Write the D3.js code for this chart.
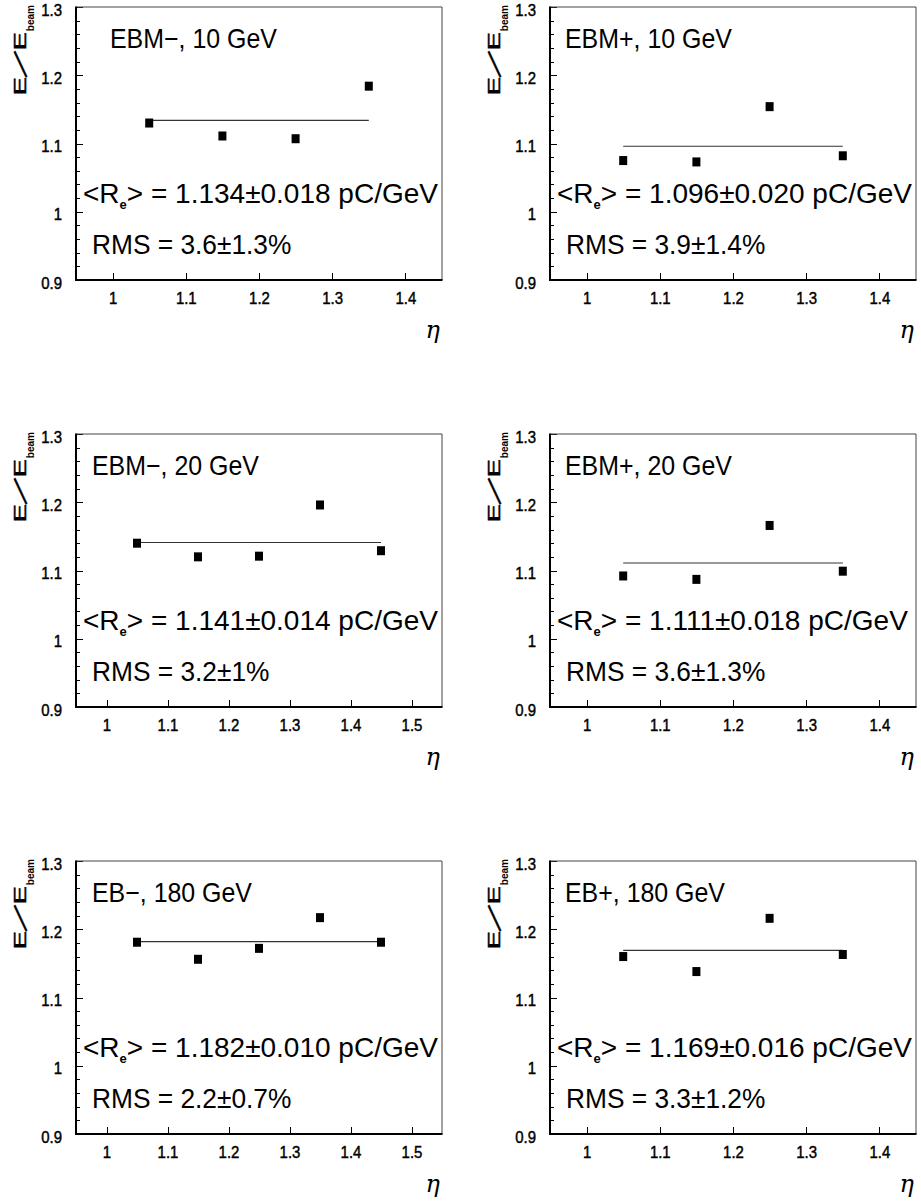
<!DOCTYPE html>
<html>
<head>
<meta charset="utf-8">
<script src="https://cdn.jsdelivr.net/npm/d3@7"></script>
<style>
  html, body { margin: 0; padding: 0; background: #fff; }
  svg { display: block; font-family: "Liberation Sans", Arial, Helvetica, sans-serif; }
</style>
</head>
<body>
<svg id="chart" width="921" height="1204"></svg>
<script>
// ---- data ----------------------------------------------------------
const etaBins = [1.05, 1.15, 1.25, 1.35, 1.45];

const panelTitles = [
  "EBM\u2212, 10 GeV", "EBM+, 10 GeV",
  "EBM\u2212, 20 GeV", "EBM+, 20 GeV",
  "EB\u2212, 180 GeV", "EB+, 180 GeV"
];

// E/E_beam per eta bin
const ebmMinus10 = [1.130, 1.111, 1.107, 1.184];
const ebmPlus10  = [1.075, 1.073, 1.154, 1.082];
const ebmMinus20 = [1.140, 1.120, 1.121, 1.196, 1.129];
const ebmPlus20  = [1.092, 1.087, 1.166, 1.099];
const ebMinus180 = [1.181, 1.156, 1.172, 1.217, 1.181];
const ebPlus180  = [1.160, 1.138, 1.216, 1.163];

const meanResponse = [1.134, 1.096, 1.141, 1.111, 1.182, 1.169];
const meanError    = ["0.018", "0.020", "0.014", "0.018", "0.010", "0.016"];
const rmsValue     = ["3.6", "3.9", "3.2", "3.6", "2.2", "3.3"];
const rmsError     = ["1.3", "1.4", "1", "1.3", "0.7", "1.2"];

const etaRanges = [[0.95, 1.45], [0.95, 1.45], [0.95, 1.55], [0.95, 1.45], [0.95, 1.55], [0.95, 1.45]];
const yRange = [0.9, 1.3];

const yTicks = [0.9, 1.0, 1.1, 1.2, 1.3];
const yTickLabels = ["0.9", "1", "1.1", "1.2", "1.3"];
const xTicksShort = [1.0, 1.1, 1.2, 1.3, 1.4];
const xTicksLong  = [1.0, 1.1, 1.2, 1.3, 1.4, 1.5];
const xTickLabels = ["1", "1.1", "1.2", "1.3", "1.4", "1.5"];

const seriesList = [ebmMinus10, ebmPlus10, ebmMinus20, ebmPlus20, ebMinus180, ebPlus180];

// ---- layout --------------------------------------------------------
const colX = [76, 550];
const rowY = [7, 434, 861];
const plotW = 366, plotH = 273;
const titleDx = [34, 15, 16, 15, 16, 15];

const svg = d3.select("#chart");

// text squeezed/stretched horizontally around its anchor point
function label(g, x, y, sx, size) {
  return g.append("text")
    .attr("transform", `translate(${x},${y}) scale(${sx},1)`)
    .attr("font-size", size)
    .attr("fill", "#000");
}

const minorY = d3.range(0, 21).filter(k => k % 5 !== 0).map(k => yRange[0] + k * 0.02);

seriesList.forEach((vals, i) => {
  const col = i % 2, row = Math.floor(i / 2);
  const x0 = colX[col], y0 = rowY[row];
  const g = svg.append("g");

  const x = d3.scaleLinear().domain(etaRanges[i]).range([x0, x0 + plotW]);
  const y = d3.scaleLinear().domain(yRange).range([y0 + plotH, y0]);
  const xTicks = etaRanges[i][1] > 1.5 ? xTicksLong : xTicksShort;

  // minor y ticks
  const minorAxis = g.append("g")
    .attr("transform", `translate(${x0},0)`)
    .call(d3.axisLeft(y).tickValues(minorY).tickSize(-4).tickFormat(""));
  minorAxis.select(".domain").remove();

  // major y ticks + labels
  const yAxis = g.append("g")
    .attr("transform", `translate(${x0},0)`)
    .call(d3.axisLeft(y).tickValues(yTicks).tickSize(-7)
      .tickFormat((d, k) => yTickLabels[k]));
  yAxis.select(".domain").remove();
  yAxis.attr("font-family", null).attr("font-size", 17);
  yAxis.selectAll("text")
    .attr("x", null).attr("dy", null)
    .attr("stroke", "#000").attr("stroke-width", 0.45)
    .attr("transform", "translate(-14,8) scale(0.88,1)");

  // x ticks + labels
  const xAxis = g.append("g")
    .attr("transform", `translate(0,${y0 + plotH})`)
    .call(d3.axisBottom(x).tickValues(xTicks).tickSize(-7)
      .tickFormat(d => xTickLabels[xTicksLong.indexOf(d)]));
  xAxis.select(".domain").remove();
  xAxis.attr("font-family", null).attr("font-size", 17);
  xAxis.selectAll("text")
    .attr("y", null).attr("dy", null)
    .attr("stroke", "#000").attr("stroke-width", 0.45)
    .attr("transform", "translate(0,23.5) scale(0.88,1)");

  g.selectAll(".tick line").attr("stroke", "#000").attr("shape-rendering", "crispEdges");

  // frame: heavy axes on left/bottom, light edges on top/right
  g.append("line").attr("x1", x0).attr("x2", x0 + plotW).attr("y1", y0).attr("y2", y0)
    .attr("stroke", "#444").attr("stroke-width", 1);
  g.append("line").attr("x1", x0 + plotW).attr("x2", x0 + plotW).attr("y1", y0).attr("y2", y0 + plotH)
    .attr("stroke", "#444").attr("stroke-width", 1);
  g.append("line").attr("x1", x0).attr("x2", x0).attr("y1", y0 - 0.5).attr("y2", y0 + plotH + 1)
    .attr("stroke", "#000").attr("stroke-width", 2);
  g.append("line").attr("x1", x0 - 1).attr("x2", x0 + plotW + 0.5).attr("y1", y0 + plotH).attr("y2", y0 + plotH)
    .attr("stroke", "#000").attr("stroke-width", 2);

  // mean response line across the measured bins
  const bins = etaBins.slice(0, vals.length);
  g.append("line")
    .attr("x1", x(bins[0])).attr("x2", x(bins[bins.length - 1]))
    .attr("y1", y(meanResponse[i])).attr("y2", y(meanResponse[i]))
    .attr("stroke", "#333").attr("stroke-width", 1.2);

  // measured points
  g.selectAll("rect.pt").data(vals).enter().append("rect")
    .attr("class", "pt")
    .attr("x", (d, k) => x(bins[k]) - 4)
    .attr("y", d => y(d) - 4.5)
    .attr("width", 8).attr("height", 9)
    .attr("fill", "#000");

  // panel title
  label(g, x0 + titleDx[i], y0 + 40.5, 0.89, 28).text(panelTitles[i]);

  // mean response text
  const re = label(g, x0 + 7, y0 + 196, 1.0, 28);
  re.append("tspan").text("<R");
  re.append("tspan").attr("font-size", 13).attr("font-weight", "bold").attr("dy", 6).text("e");
  re.append("tspan").attr("dy", -6)
    .text(`> = ${meanResponse[i].toFixed(3)}\u00b1${meanError[i]} pC/GeV`);

  // RMS text
  label(g, x0 + 16, y0 + 246.5, 0.94, 28).text(`RMS = ${rmsValue[i]}\u00b1${rmsError[i]}%`);

  // y title E/E_beam, rotated, ending at the top of the axis
  const yt = g.append("g").attr("transform", `translate(${x0 - 50},${y0 - 2}) rotate(-90)`);
  yt.append("text")
    .attr("text-anchor", "end").attr("font-size", 10).attr("font-weight", "bold")
    .attr("x", 0).attr("y", 8).text("beam");
  const yPart = (pos, sx, s) => yt.append("text")
    .attr("text-anchor", "end").attr("font-size", 17)
    .attr("stroke", "#000").attr("stroke-width", 0.5)
    .attr("transform", `translate(${pos},0) scale(${sx},1)`).text(s);
  yPart(-27, 1.6, "E");
  yPart(-72, 1.6, "E");
  // long, shallow solidus between the two E's
  yt.append("g").attr("transform", "translate(-59,-6) rotate(46)")
    .append("text")
    .attr("text-anchor", "middle")
    .attr("font-family", "'Liberation Serif', 'Times New Roman', serif")
    .attr("stroke", "#000").attr("stroke-width", 0.4)
    .attr("font-size", 40).attr("y", 13.5).text("/");

  // x title
  g.append("text")
    .attr("x", x0 + plotW - 2).attr("y", y0 + plotH + 58)
    .attr("text-anchor", "end")
    .attr("font-family", "'DejaVu Serif', serif").attr("font-style", "italic")
    .attr("font-size", 24).text("\u03b7");
});
</script>
</body>
</html>
